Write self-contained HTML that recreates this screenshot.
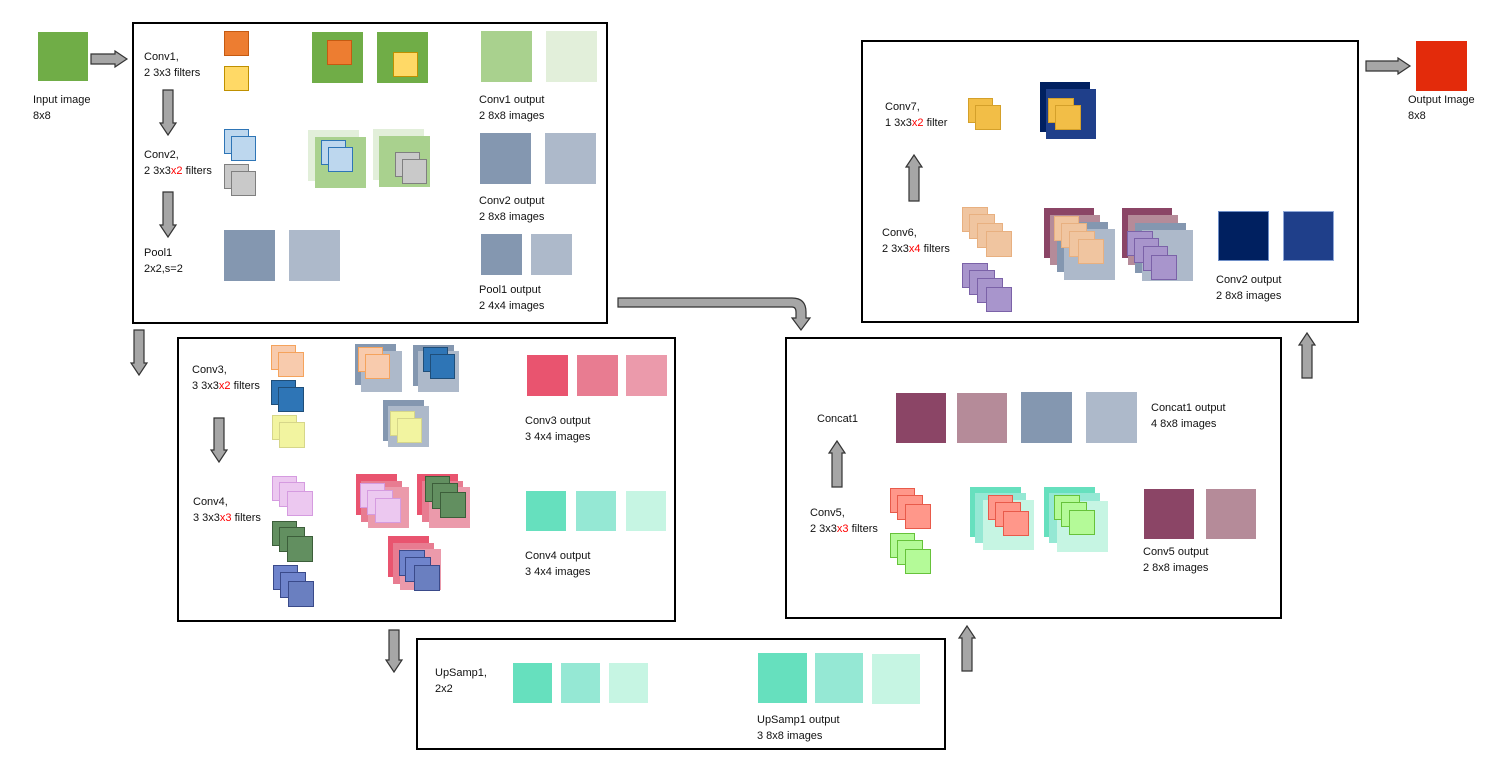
<!DOCTYPE html>
<html><head><meta charset="utf-8"><style>
body{margin:0;width:1500px;height:770px;background:#fff;position:relative;overflow:hidden;font-family:"Liberation Sans",sans-serif}
i{position:absolute;display:block;box-sizing:border-box}
i.f{border:1.5px solid}
.b{position:absolute;border:2px solid #000;box-sizing:border-box}
p{position:absolute;margin:0;font-size:11px;line-height:16px;color:#111;white-space:nowrap}
r{color:#f00}
svg{position:absolute;left:0;top:0}
</style></head><body>
<div class="b" style="left:132px;top:22px;width:476px;height:302px"></div>
<div class="b" style="left:177px;top:337px;width:499px;height:285px"></div>
<div class="b" style="left:416px;top:638px;width:530px;height:112px"></div>
<div class="b" style="left:785px;top:337px;width:497px;height:282px"></div>
<div class="b" style="left:861px;top:40px;width:498px;height:283px"></div>

<!-- input/output -->
<i style="left:38px;top:32px;width:50px;height:49px;background:#70ad47"></i>
<p style="left:33px;top:92px">Input image<br>8x8</p>
<i style="left:1416px;top:41px;width:51px;height:50px;background:#e32b0b"></i>
<p style="left:1408px;top:92px">Output Image<br>8x8</p>

<!-- Box1 -->
<p style="left:144px;top:49px">Conv1,<br>2 3x3 filters</p>
<i class="f" style="left:224px;top:31px;width:25px;height:25px;background:#ed7d31;border-color:#c55a11"></i>
<i class="f" style="left:224px;top:66px;width:25px;height:25px;background:#ffd966;border-color:#bf9000"></i>
<i style="left:312px;top:32px;width:51px;height:51px;background:#70ad47"></i>
<i class="f" style="left:327px;top:40px;width:25px;height:25px;background:#ed7d31;border-color:#c55a11"></i>
<i style="left:377px;top:32px;width:51px;height:51px;background:#70ad47"></i>
<i class="f" style="left:393px;top:52px;width:25px;height:25px;background:#ffd966;border-color:#bf9000"></i>
<i style="left:481px;top:31px;width:51px;height:51px;background:#a9d18e"></i>
<i style="left:546px;top:31px;width:51px;height:51px;background:#e2efda"></i>
<p style="left:479px;top:92px">Conv1 output<br>2 8x8 images</p>
<p style="left:144px;top:147px">Conv2,<br>2 3x3<r>x2</r> filters</p>
<i class="f" style="left:224px;top:129px;width:25px;height:25px;background:#bdd7ee;border-color:#2e75b6"></i>
<i class="f" style="left:231px;top:136px;width:25px;height:25px;background:#bdd7ee;border-color:#2e75b6"></i>
<i class="f" style="left:224px;top:164px;width:25px;height:25px;background:#c9c9c9;border-color:#7f7f7f"></i>
<i class="f" style="left:231px;top:171px;width:25px;height:25px;background:#c9c9c9;border-color:#7f7f7f"></i>
<i style="left:308px;top:130px;width:51px;height:51px;background:#e2efda"></i>
<i style="left:315px;top:137px;width:51px;height:51px;background:#a9d18e"></i>
<i class="f" style="left:321px;top:140px;width:25px;height:25px;background:#bdd7ee;border-color:#2e75b6"></i>
<i class="f" style="left:328px;top:147px;width:25px;height:25px;background:#bdd7ee;border-color:#2e75b6"></i>
<i style="left:373px;top:129px;width:51px;height:51px;background:#e2efda"></i>
<i style="left:379px;top:136px;width:51px;height:51px;background:#a9d18e"></i>
<i class="f" style="left:395px;top:152px;width:25px;height:25px;background:#c9c9c9;border-color:#7f7f7f"></i>
<i class="f" style="left:402px;top:159px;width:25px;height:25px;background:#c9c9c9;border-color:#7f7f7f"></i>
<i style="left:480px;top:133px;width:51px;height:51px;background:#8497b0"></i>
<i style="left:545px;top:133px;width:51px;height:51px;background:#adb9ca"></i>
<p style="left:479px;top:193px">Conv2 output<br>2 8x8 images</p>
<p style="left:144px;top:245px">Pool1<br>2x2,s=2</p>
<i style="left:224px;top:230px;width:51px;height:51px;background:#8497b0"></i>
<i style="left:289px;top:230px;width:51px;height:51px;background:#adb9ca"></i>
<i style="left:481px;top:234px;width:41px;height:41px;background:#8497b0"></i>
<i style="left:531px;top:234px;width:41px;height:41px;background:#adb9ca"></i>
<p style="left:479px;top:282px">Pool1 output<br>2 4x4 images</p>

<!-- Box2 -->
<p style="left:192px;top:362px">Conv3,<br>3 3x3<r>x2</r> filters</p>
<i class="f" style="left:271px;top:345px;width:25px;height:25px;background:#f8cbad;border-color:#f5a35c"></i>
<i class="f" style="left:278px;top:352px;width:26px;height:25px;background:#f8cbad;border-color:#f5a35c"></i>
<i class="f" style="left:271px;top:380px;width:25px;height:25px;background:#2e75b6;border-color:#1f4e79"></i>
<i class="f" style="left:278px;top:387px;width:26px;height:25px;background:#2e75b6;border-color:#1f4e79"></i>
<i class="f" style="left:272px;top:415px;width:25px;height:25px;background:#f2f4a0;border-color:#d6d68a"></i>
<i class="f" style="left:279px;top:422px;width:26px;height:26px;background:#f2f4a0;border-color:#d6d68a"></i>
<i style="left:355px;top:344px;width:41px;height:41px;background:#8497b0"></i>
<i style="left:361px;top:351px;width:41px;height:41px;background:#adb9ca"></i>
<i class="f" style="left:358px;top:347px;width:25px;height:25px;background:#f8cbad;border-color:#f5a35c"></i>
<i class="f" style="left:365px;top:354px;width:25px;height:25px;background:#f8cbad;border-color:#f5a35c"></i>
<i style="left:413px;top:345px;width:41px;height:41px;background:#8497b0"></i>
<i style="left:418px;top:351px;width:41px;height:41px;background:#adb9ca"></i>
<i class="f" style="left:423px;top:347px;width:25px;height:25px;background:#2e75b6;border-color:#1f4e79"></i>
<i class="f" style="left:430px;top:354px;width:25px;height:25px;background:#2e75b6;border-color:#1f4e79"></i>
<i style="left:383px;top:400px;width:41px;height:41px;background:#8497b0"></i>
<i style="left:388px;top:406px;width:41px;height:41px;background:#adb9ca"></i>
<i class="f" style="left:390px;top:411px;width:25px;height:25px;background:#f2f4a0;border-color:#d6d68a"></i>
<i class="f" style="left:397px;top:418px;width:25px;height:25px;background:#f2f4a0;border-color:#d6d68a"></i>
<i style="left:527px;top:355px;width:41px;height:41px;background:#e9546f"></i>
<i style="left:577px;top:355px;width:41px;height:41px;background:#e87c91"></i>
<i style="left:626px;top:355px;width:41px;height:41px;background:#eb9aab"></i>
<p style="left:525px;top:413px">Conv3 output<br>3 4x4 images</p>
<p style="left:193px;top:494px">Conv4,<br>3 3x3<r>x3</r> filters</p>
<i class="f" style="left:272px;top:476px;width:25px;height:25px;background:#ecc8f0;border-color:#d59be0"></i>
<i class="f" style="left:279px;top:482px;width:26px;height:25px;background:#ecc8f0;border-color:#d59be0"></i>
<i class="f" style="left:287px;top:491px;width:26px;height:25px;background:#ecc8f0;border-color:#d59be0"></i>
<i class="f" style="left:272px;top:521px;width:25px;height:25px;background:#628f60;border-color:#3c5e3a"></i>
<i class="f" style="left:279px;top:527px;width:26px;height:25px;background:#628f60;border-color:#3c5e3a"></i>
<i class="f" style="left:287px;top:536px;width:26px;height:26px;background:#628f60;border-color:#3c5e3a"></i>
<i class="f" style="left:273px;top:565px;width:25px;height:25px;background:#6f84cc;border-color:#3a4a8a"></i>
<i class="f" style="left:280px;top:572px;width:26px;height:26px;background:#6f84cc;border-color:#3a4a8a"></i>
<i class="f" style="left:288px;top:581px;width:26px;height:26px;background:#6a7fc0;border-color:#3a4a8a"></i>
<i style="left:356px;top:474px;width:41px;height:41px;background:#e9546f"></i>
<i style="left:361px;top:481px;width:41px;height:41px;background:#e87c91"></i>
<i style="left:368px;top:487px;width:41px;height:41px;background:#eb9aab"></i>
<i class="f" style="left:360px;top:483px;width:25px;height:25px;background:#ecc8f0;border-color:#d59be0"></i>
<i class="f" style="left:367px;top:490px;width:26px;height:25px;background:#ecc8f0;border-color:#d59be0"></i>
<i class="f" style="left:375px;top:498px;width:26px;height:25px;background:#ecc8f0;border-color:#d59be0"></i>
<i style="left:417px;top:474px;width:41px;height:41px;background:#e9546f"></i>
<i style="left:422px;top:481px;width:41px;height:41px;background:#e87c91"></i>
<i style="left:429px;top:487px;width:41px;height:41px;background:#eb9aab"></i>
<i class="f" style="left:425px;top:476px;width:25px;height:26px;background:#628f60;border-color:#3c5e3a"></i>
<i class="f" style="left:432px;top:483px;width:26px;height:26px;background:#628f60;border-color:#3c5e3a"></i>
<i class="f" style="left:440px;top:492px;width:26px;height:26px;background:#628f60;border-color:#3c5e3a"></i>
<i style="left:388px;top:536px;width:41px;height:41px;background:#e9546f"></i>
<i style="left:393px;top:543px;width:41px;height:41px;background:#e87c91"></i>
<i style="left:400px;top:549px;width:41px;height:41px;background:#eb9aab"></i>
<i class="f" style="left:399px;top:550px;width:26px;height:26px;background:#6f84cc;border-color:#3a4a8a"></i>
<i class="f" style="left:405px;top:557px;width:26px;height:25px;background:#6f84cc;border-color:#3a4a8a"></i>
<i class="f" style="left:414px;top:565px;width:26px;height:26px;background:#6a7fc0;border-color:#3a4a8a"></i>
<i style="left:526px;top:491px;width:40px;height:40px;background:#66e0be"></i>
<i style="left:576px;top:491px;width:40px;height:40px;background:#95e8d4"></i>
<i style="left:626px;top:491px;width:40px;height:40px;background:#c6f5e3"></i>
<p style="left:525px;top:548px">Conv4 output<br>3 4x4 images</p>

<!-- Box3 -->
<p style="left:435px;top:665px">UpSamp1,<br>2x2</p>
<i style="left:513px;top:663px;width:39px;height:40px;background:#66e0be"></i>
<i style="left:561px;top:663px;width:39px;height:40px;background:#95e8d4"></i>
<i style="left:609px;top:663px;width:39px;height:40px;background:#c6f5e3"></i>
<i style="left:758px;top:653px;width:49px;height:50px;background:#66e0be"></i>
<i style="left:815px;top:653px;width:48px;height:50px;background:#95e8d4"></i>
<i style="left:872px;top:654px;width:48px;height:50px;background:#c6f5e3"></i>
<p style="left:757px;top:712px">UpSamp1 output<br>3 8x8 images</p>

<!-- Box4 -->
<p style="left:817px;top:411px">Concat1</p>
<i style="left:896px;top:393px;width:50px;height:50px;background:#8b4566"></i>
<i style="left:957px;top:393px;width:50px;height:50px;background:#b58b99"></i>
<i style="left:1021px;top:392px;width:51px;height:51px;background:#8497b0"></i>
<i style="left:1086px;top:392px;width:51px;height:51px;background:#adb9ca"></i>
<p style="left:1151px;top:400px">Concat1 output<br>4 8x8 images</p>
<p style="left:810px;top:505px">Conv5,<br>2 3x3<r>x3</r> filters</p>
<i class="f" style="left:890px;top:488px;width:25px;height:25px;background:#ff978a;border-color:#e85a4a"></i>
<i class="f" style="left:897px;top:495px;width:26px;height:25px;background:#ff978a;border-color:#e85a4a"></i>
<i class="f" style="left:905px;top:504px;width:26px;height:25px;background:#ff978a;border-color:#e85a4a"></i>
<i class="f" style="left:890px;top:533px;width:25px;height:25px;background:#b4fa98;border-color:#66c23a"></i>
<i class="f" style="left:897px;top:540px;width:26px;height:25px;background:#b4fa98;border-color:#66c23a"></i>
<i class="f" style="left:905px;top:549px;width:26px;height:25px;background:#b4fa98;border-color:#66c23a"></i>
<i style="left:970px;top:487px;width:51px;height:50px;background:#66e0be"></i>
<i style="left:975px;top:493px;width:51px;height:50px;background:#95e8d4"></i>
<i style="left:983px;top:500px;width:51px;height:50px;background:#c6f5e3"></i>
<i class="f" style="left:988px;top:495px;width:25px;height:25px;background:#ff978a;border-color:#e85a4a"></i>
<i class="f" style="left:995px;top:502px;width:26px;height:25px;background:#ff978a;border-color:#e85a4a"></i>
<i class="f" style="left:1003px;top:511px;width:26px;height:25px;background:#ff978a;border-color:#e85a4a"></i>
<i style="left:1044px;top:487px;width:51px;height:50px;background:#66e0be"></i>
<i style="left:1049px;top:493px;width:51px;height:50px;background:#95e8d4"></i>
<i style="left:1057px;top:501px;width:51px;height:51px;background:#c6f5e3"></i>
<i class="f" style="left:1054px;top:495px;width:26px;height:25px;background:#b4fa98;border-color:#66c23a"></i>
<i class="f" style="left:1061px;top:502px;width:26px;height:25px;background:#b4fa98;border-color:#66c23a"></i>
<i class="f" style="left:1069px;top:510px;width:26px;height:25px;background:#b4fa98;border-color:#66c23a"></i>
<i style="left:1144px;top:489px;width:50px;height:50px;background:#8b4566"></i>
<i style="left:1206px;top:489px;width:50px;height:50px;background:#b58b99"></i>
<p style="left:1143px;top:544px">Conv5 output<br>2 8x8 images</p>

<!-- Box5 -->
<p style="left:885px;top:99px">Conv7,<br>1 3x3<r>x2</r> filter</p>
<i class="f" style="left:968px;top:98px;width:25px;height:25px;background:#f2be47;border-color:#d4a02a"></i>
<i class="f" style="left:975px;top:105px;width:26px;height:25px;background:#f2be47;border-color:#d4a02a"></i>
<i style="left:1040px;top:82px;width:50px;height:50px;background:#002060"></i>
<i style="left:1046px;top:89px;width:50px;height:50px;background:#1f3f8a"></i>
<i class="f" style="left:1048px;top:98px;width:26px;height:25px;background:#f2be47;border-color:#d4a02a"></i>
<i class="f" style="left:1055px;top:105px;width:26px;height:25px;background:#f2be47;border-color:#d4a02a"></i>
<p style="left:882px;top:225px">Conv6,<br>2 3x3<r>x4</r> filters</p>
<i class="f" style="left:962px;top:207px;width:26px;height:25px;background:#f0c5a0;border-color:#e8b080"></i>
<i class="f" style="left:969px;top:214px;width:26px;height:25px;background:#f0c5a0;border-color:#e8b080"></i>
<i class="f" style="left:977px;top:223px;width:26px;height:25px;background:#f0c5a0;border-color:#e8b080"></i>
<i class="f" style="left:986px;top:231px;width:26px;height:26px;background:#f0c5a0;border-color:#e8b080"></i>
<i class="f" style="left:962px;top:263px;width:26px;height:25px;background:#a895cc;border-color:#7b62a8"></i>
<i class="f" style="left:969px;top:270px;width:26px;height:25px;background:#a895cc;border-color:#7b62a8"></i>
<i class="f" style="left:977px;top:278px;width:26px;height:25px;background:#a895cc;border-color:#7b62a8"></i>
<i class="f" style="left:986px;top:287px;width:26px;height:25px;background:#a895cc;border-color:#7b62a8"></i>
<i style="left:1044px;top:208px;width:50px;height:50px;background:#8b4566"></i>
<i style="left:1050px;top:215px;width:50px;height:50px;background:#b58b99"></i>
<i style="left:1057px;top:222px;width:51px;height:50px;background:#8497b0"></i>
<i style="left:1064px;top:229px;width:51px;height:51px;background:#adb9ca"></i>
<i class="f" style="left:1054px;top:216px;width:25px;height:25px;background:#f0c5a0;border-color:#e8b080"></i>
<i class="f" style="left:1061px;top:223px;width:26px;height:25px;background:#f0c5a0;border-color:#e8b080"></i>
<i class="f" style="left:1069px;top:231px;width:26px;height:26px;background:#f0c5a0;border-color:#e8b080"></i>
<i class="f" style="left:1078px;top:239px;width:26px;height:25px;background:#f0c5a0;border-color:#e8b080"></i>
<i style="left:1122px;top:208px;width:50px;height:50px;background:#8b4566"></i>
<i style="left:1128px;top:215px;width:50px;height:50px;background:#b58b99"></i>
<i style="left:1135px;top:223px;width:51px;height:50px;background:#8497b0"></i>
<i style="left:1142px;top:230px;width:51px;height:51px;background:#adb9ca"></i>
<i class="f" style="left:1127px;top:231px;width:26px;height:25px;background:#a895cc;border-color:#7b62a8"></i>
<i class="f" style="left:1134px;top:238px;width:25px;height:25px;background:#a895cc;border-color:#7b62a8"></i>
<i class="f" style="left:1143px;top:246px;width:25px;height:25px;background:#a895cc;border-color:#7b62a8"></i>
<i class="f" style="left:1151px;top:255px;width:26px;height:25px;background:#a895cc;border-color:#7b62a8"></i>
<i style="left:1218px;top:211px;width:51px;height:50px;background:#002060;border:1px solid #6f8fc8"></i>
<i style="left:1283px;top:211px;width:51px;height:50px;background:#1f3f8a;border:1px solid #8fa8d8"></i>
<p style="left:1216px;top:272px">Conv2 output<br>2 8x8 images</p>

<svg width="1500" height="770" viewBox="0 0 1500 770">
<g fill="#a6a6a6" stroke="#333" stroke-width="1.2" stroke-linejoin="miter">
<path d="M163 90H173V123H176L168 135L160 123H163Z"/>
<path d="M163 192H173V225H176L168 237L160 225H163Z"/>
<path d="M214 418H224V450H227L219 462L211 450H214Z"/>
<path d="M134 330H144V363H147L139 375L131 363H134Z"/>
<path d="M389 630H399V660H402L394 672L386 660H389Z"/>
<path d="M914 155L922 167H919V201H909V167H906Z"/>
<path d="M837 441L845 453H842V487H832V453H829Z"/>
<path d="M967 626L975 638H972V671H962V638H959Z"/>
<path d="M1307 333L1315 345H1312V378H1302V345H1299Z"/>
<path d="M91 54H115V51L127 59L115 67V64H91Z"/>
<path d="M1366 61H1398V58L1410 66L1398 74V71H1366Z"/>
<path d="M618 298H792Q806 298 806 312V318H810L801 330L792 318H796V312Q796 307 792 307H618Z"/>
</g>
</svg>
</body></html>
